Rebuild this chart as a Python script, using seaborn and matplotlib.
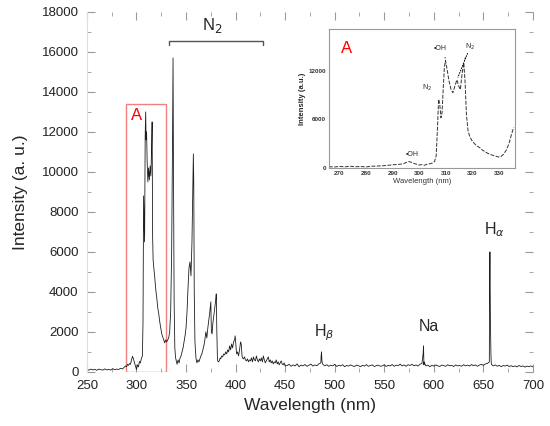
import numpy as np
import pandas as pd
import matplotlib
matplotlib.use('Agg')
import matplotlib.pyplot as plt
import seaborn as sns
from matplotlib.patches import Rectangle
from matplotlib.ticker import MultipleLocator

# main spectrum
uv_wl = np.arange(250, 290, 2)
uv_int = [120, 90, 140, 100, 130, 80, 140, 110, 90, 150,
          100, 130, 90, 160, 110, 140, 120, 180, 150, 250]

band_wl = [289, 290, 291, 292, 293, 294, 295, 296, 297, 298,
           299, 300, 301, 302, 303, 304, 305, 306, 306.6, 307.2,
           307.6, 308.2, 308.8, 309.3, 309.7, 310.2, 310.8, 311.5, 312.2, 313.0,
           313.8, 314.5, 315.2, 315.8, 316.3, 316.8, 317.5, 318.5, 319.5, 320.5,
           321.5, 322.5, 323.5, 324.5, 325.5, 326.5, 327.5, 328.5, 329.5, 330.5,
           331.5, 332.5, 333.5, 334.5, 335.5, 336.3, 336.9, 337.4, 338.0, 338.7,
           339.5, 340.3, 341, 342, 343, 344, 345, 346, 347, 348,
           349, 350, 351, 352, 353, 354, 355, 356, 356.8, 357.4,
           357.8, 358.3, 359, 360, 361, 362, 363, 364, 365, 366,
           367, 368, 369, 370, 371, 372, 373, 374, 375, 375.6,
           376.3, 377, 378, 379, 380, 380.5, 381.1, 381.7, 382.5, 383.5,
           384.5, 385, 386, 387, 388, 389, 390, 391, 392, 393,
           394, 395, 396, 397, 398, 399, 399.6, 400.5, 401, 402,
           403, 404, 405, 405.7, 406.5, 407, 408, 409, 410, 411,
           412, 413, 414, 415, 416, 417, 418, 419, 420, 421,
           422, 423, 424, 425, 426, 427, 428, 429, 430, 431,
           432, 433, 434, 435, 436, 437, 438, 439, 440, 441,
           442, 443, 444, 445, 446, 447, 448, 449, 450]
band_int = [300, 260, 380, 330, 420, 380, 600, 780, 650, 450,
            300, 120, 350, 250, 520, 450, 680, 800, 2500, 8800,
            7800, 6500, 11800, 13000, 11600, 12000, 10500, 9500, 10200, 9600,
            10300, 9800, 11000, 12500, 6800, 5600, 5200, 4700, 4100, 3700,
            3200, 2900, 2500, 2200, 1900, 1750, 1600, 1450, 1600, 1500,
            1600, 1700, 2000, 3000, 6000, 11000, 15700, 9500, 3500, 1200,
            700, 520, 380, 600, 450, 700, 800, 1000, 1200, 1500,
            1800, 2200, 3000, 4200, 5200, 5500, 4800, 6500, 9000, 10900,
            9500, 4000, 1500, 700, 450, 600, 500, 650, 800, 900,
            1100, 1300, 1600, 2000, 1700, 2200, 2600, 3000, 3500, 2000,
            1900, 2400, 2800, 3200, 3600, 3900, 2000, 600, 500, 550,
            700, 650, 800, 750, 900, 850, 1000, 900, 1100, 1000,
            1300, 1100, 1400, 1200, 1500, 1600, 1800, 1200, 900, 1000,
            800, 1100, 1500, 1400, 800, 700, 650, 750, 600, 550,
            650, 500, 600, 550, 700, 500, 750, 600, 550, 800,
            600, 500, 650, 550, 700, 500, 800, 600, 450, 550,
            650, 750, 500, 600, 450, 550, 400, 500, 450, 600,
            400, 500, 350, 450, 550, 400, 350, 450, 300]

vis_wl = np.arange(452, 702, 2)
vis_int = [320, 380, 280, 350, 300, 400, 260, 340, 300, 370,
           280, 330, 390, 290, 350, 310, 400, 450, 380, 300,
           360, 280, 340, 300, 380, 270, 330, 300, 360, 260,
           320, 290, 350, 300, 270, 340, 310, 260, 330, 290,
           360, 280, 320, 350, 270, 310, 340, 280, 300, 360,
           270, 330, 300, 370, 280, 340, 310, 390, 300, 350,
           280, 360, 320, 380, 300, 350, 290, 380, 420, 350,
           300, 340, 260, 330, 290, 350, 300, 270, 340, 310,
           280, 360, 300, 330, 270, 350, 300, 320, 280, 360,
           300, 340, 290, 370, 310, 350, 280, 340, 380, 330,
           400, 420, 500, 380, 300, 350, 280, 330, 260, 320,
           290, 340, 270, 310, 260, 300, 250, 320, 270, 300,
           240, 290, 260, 300, 250]

# atomic lines: H-beta, Na, H-alpha
line_wl = [486.3, 486.7, 487.2, 589.2, 589.6, 590.1, 656.2, 656.6, 657.1, 657.6]
line_int = [800, 1000, 500, 900, 1300, 500, 4000, 6000, 2500, 900]

# inset "A" (zoom of 265-335 nm)
inset_wl = [266, 268, 270, 272, 274, 276, 278, 280, 282, 284,
            286, 288, 290, 292, 294, 295, 296, 297, 298, 299,
            300, 301, 302, 303, 304, 305, 305.8, 306.4, 306.9, 307.3,
            307.7, 308.2, 308.6, 309.0, 309.5, 309.9, 310.5, 311.2, 312.0, 312.7,
            313.5, 314.2, 314.8, 315.5, 316.2, 316.8, 317.3, 317.8, 318.4, 319.0,
            319.8, 320.8, 321.8, 322.8, 323.8, 324.8, 325.8, 326.8, 327.8, 328.8,
            329.8, 330.8, 331.8, 332.8, 333.8, 334.8, 335.6]
inset_int = [150, 100, 180, 120, 200, 130, 170, 110, 200, 220,
             250, 300, 380, 420, 500, 650, 780, 700, 550, 450,
             350, 400, 320, 450, 500, 600, 800, 1500, 5000, 8500,
             8000, 6200, 6800, 9500, 12500, 13300, 12200, 10800, 9700, 9300,
             10200, 10900, 10200, 9700, 11800, 13000, 10500, 6500, 4600, 3900,
             3400, 3000, 2700, 2500, 2200, 2000, 1800, 1650, 1550, 1450,
             1350, 1400, 1700, 2200, 3000, 4200, 5000]

sns.set_theme(style='white')
plt.rcParams['font.family'] = ['Liberation Sans', 'DejaVu Sans']

spec = pd.DataFrame({
    'wl': np.concatenate([uv_wl, band_wl, vis_wl, line_wl]),
    'intensity': np.concatenate([uv_int, band_int, vis_int, line_int]),
}).sort_values('wl')

fig = plt.figure(figsize=(5.5, 4.26), dpi=100)
ax = fig.add_axes([0.158, 0.127, 0.811, 0.845])
sns.lineplot(data=spec, x='wl', y='intensity', ax=ax, color='#1e1e1e',
             linewidth=0.6, estimator=None, sort=False)

ax.set_xlim(250, 700)
ax.set_ylim(0, 18000)
ax.xaxis.set_major_locator(MultipleLocator(50))
ax.xaxis.set_minor_locator(MultipleLocator(25))
ax.yaxis.set_major_locator(MultipleLocator(2000))
ax.yaxis.set_minor_locator(MultipleLocator(1000))
ax.tick_params(which='both', direction='in', top=True, right=True,
               bottom=True, left=True, color='#999999', labelsize=9.5,
               labelcolor='#222222', pad=6)
ax.tick_params(which='major', length=6, width=0.8)
ax.tick_params(which='minor', length=3, width=0.6)
for s in ['top', 'right', 'bottom']:
    ax.spines[s].set_visible(False)
ax.spines['left'].set_color('#dddddd')
ax.spines['left'].set_linewidth(0.8)
ax.set_xlabel('Wavelength (nm)', fontsize=12.5, labelpad=4)
ax.set_ylabel('Intensity (a. u.)', fontsize=12.5, labelpad=10)

# red box marking region A
ax.add_patch(Rectangle((289, 0), 41, 13400, fill=False, edgecolor='#f08080', lw=1))
ax.text(300, 12800, 'A', color='red', fontsize=12, ha='center', va='center')

# N2 band bracket
ax.plot([333, 333, 428, 428], [16350, 16570, 16570, 16350], color='#555555', lw=1)
ax.text(376, 17100, 'N$_2$', fontsize=12, ha='center', va='baseline')
ax.text(489, 1770, r'H$_\beta$', fontsize=11.5, ha='center', va='baseline')
ax.text(595, 2070, 'Na', fontsize=11.5, ha='center', va='baseline')
ax.text(661, 6880, r'H$_\alpha$', fontsize=11.5, ha='center', va='baseline')

# inset
iax = fig.add_axes([0.598, 0.606, 0.338, 0.326])
sns.lineplot(x=inset_wl, y=inset_int, ax=iax, color='#333333', linewidth=0.7,
             linestyle=(0, (4, 1.5)), estimator=None, sort=False)
iax.set_xlim(266, 336)
iax.set_ylim(0, 17200)
iax.set_xticks(range(270, 331, 10))
iax.set_yticks([0, 6000, 12000])
iax.tick_params(direction='in', length=2, width=0.5, color='#777777',
                labelsize=4.5, labelcolor='#333333', pad=2)
for lab in iax.get_xticklabels() + iax.get_yticklabels():
    lab.set_fontweight('bold')
for s in iax.spines.values():
    s.set_color('#999999')
    s.set_linewidth(0.8)
iax.set_xlabel('Wavelength (nm)', fontsize=5.5, labelpad=2, color='#333333')
iax.set_ylabel('Intensity (a.u.)', fontsize=5.5, labelpad=2, fontweight='bold')

iax.text(272.8, 14800, 'A', color='red', fontsize=12, ha='center', va='center')
iax.text(297.2, 1660, '•OH', fontsize=5, ha='center', va='center')
iax.text(302.9, 9840, 'N$_2$', fontsize=5, ha='center', va='center')
iax.annotate('•OH', xy=(310.3, 13300), xytext=(307.9, 14800), fontsize=5,
             ha='center', va='center',
             arrowprops=dict(arrowstyle='-', ls=':', lw=0.7, color='black'))
iax.annotate('N$_2$', xy=(316.6, 13000), xytext=(319.1, 15000), fontsize=5,
             ha='center', va='center',
             arrowprops=dict(arrowstyle='-', ls=':', lw=0.7, color='black'))
iax.annotate('', xy=(314.2, 10900), xytext=(318.6, 14500),
             arrowprops=dict(arrowstyle='-', ls=':', lw=0.7, color='black'))

fig.savefig('out.png', dpi=100)
